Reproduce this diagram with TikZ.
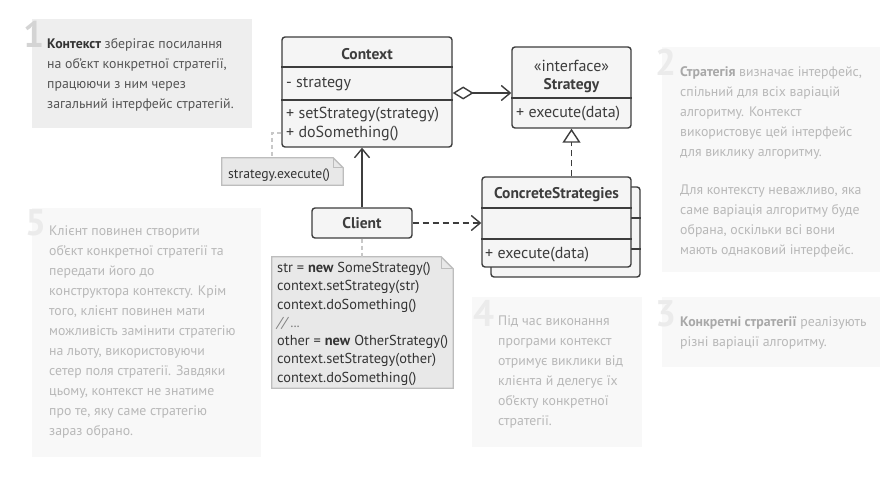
\documentclass[tikz,border=0pt]{standalone}
\usepackage{fontspec}
\setmainfont{PT Sans}
\usetikzlibrary{arrows.meta,calc}

\definecolor{umlline}{HTML}{3D3D3D}
\definecolor{umlfill}{HTML}{F5F5F5}
\definecolor{notefill}{HTML}{E8E8E8}
\definecolor{noteline}{HTML}{BDBDBD}
\definecolor{hintline}{HTML}{C8C8C8}
\definecolor{tipfill}{HTML}{F8F8F8}
\definecolor{tipfillon}{HTML}{EEEEEE}
\definecolor{tiptext}{HTML}{B8B8B8}
\definecolor{tipbold}{HTML}{A8A8A8}
\definecolor{tiptexton}{HTML}{555555}
\definecolor{tipboldon}{HTML}{333333}
\definecolor{tipnum}{HTML}{EBEBEB}
\definecolor{tipnumon}{HTML}{D4D4D4}

\tikzset{
  umlbox/.style={draw=umlline, fill=umlfill, line width=1.4pt, rounded corners=3pt, inner sep=0pt},
  umlsep/.style={draw=umlline, line width=1.4pt},
  umltext/.style={font=\fontsize{16}{18}\selectfont, text=umlline, inner sep=0pt},
  umlname/.style={font=\fontsize{15.5}{18}\selectfont\bfseries, text=umlline, inner sep=0pt},
  tiptxt/.style={anchor=north west, inner sep=0pt, text=tiptext, align=left, font=\fontsize{13.8}{20}\selectfont},
  tipno/.style={anchor=base west, inner sep=0pt, text=tipnum, font=\fontsize{37}{37}\selectfont\bfseries},
  notebox/.style={draw=noteline, fill=notefill, line width=1.3pt},
  hint/.style={draw=hintline, line width=1.3pt, dash pattern=on 4pt off 3pt},
  barb/.style={-{Straight Barb[length=9pt,width=15pt]}},
}

\begin{document}
\begin{tikzpicture}[x=1pt,y=-1pt]
\useasboundingbox (0,0) rectangle (883,486);

% numbered hints
\fill[tipfillon] (32,19) rectangle (252,128);
\node[tipno, text=tipnumon] (no1) at (23,48) {1};
\node[tiptxt, text=tiptexton] (hint1) at (47,38) {\textcolor{tipboldon}{\bfseries Контекст} зберігає посилання\\на об’єкт конкретної стратегії,\\працюючи з ним через\\загальний інтерфейс стратегій.};

\fill[tipfill] (662,47) rectangle (880,272);
\node[tipno] (no2) at (655,76) {2};
\node[tiptxt] (hint2) at (680,66) {\textcolor{tipbold}{\bfseries Стратегія} визначає інтерфейс,\\спільний для всіх варіацій\\алгоритму. Контекст\\використовує цей інтерфейс\\для виклику алгоритму.\\[18pt]Для контексту неважливо, яка\\саме варіація алгоритму буде\\обрана, оскільки всі вони\\мають однаковий інтерфейс.};

\fill[tipfill] (662,297) rectangle (880,367);
\node[tipno] (no3) at (655,326) {3};
\node[tiptxt] (hint3) at (680,316) {\textcolor{tipbold}{\bfseries Конкретні стратегії} реалізують\\різні варіації алгоритму.};

\fill[tipfill] (472,297) rectangle (642,447);
\node[tipno] (no4) at (473,326) {4};
\node[tiptxt] (hint4) at (498,316) {Під час виконання\\програми контекст\\отримує виклики від\\клієнта й делегує їх\\об’єкту конкретної\\стратегії.};

\fill[tipfill] (32,208) rectangle (261,457);
\node[tipno] (no5) at (25,236) {5};
\node[tiptxt] (hint5) at (49,226) {Клієнт повинен створити\\об’єкт конкретної стратегії та\\передати його до\\конструктора контексту. Крім\\того, клієнт повинен мати\\можливість замінити стратегію\\на льоту, використовуючи\\сетер поля стратегії. Завдяки\\цьому, контекст не знатиме\\про те, яку саме стратегію\\зараз обрано.};

% Context
\node[umlbox, minimum width=170pt, minimum height=110pt] (ctx) at (367,92) {};
\draw[umlsep] (ctx.west |- 0,67) -- (ctx.east |- 0,67);
\draw[umlsep] (ctx.west |- 0,100) -- (ctx.east |- 0,100);
\node[umlname, anchor=base] (ctxname) at (367,60) {Context};
\node[umltext, anchor=base west] (ctxfield) at (286,88) {- strategy};
\node[umltext, anchor=base west] (ctxset) at (286,119) {+ setStrategy(strategy)};
\node[umltext, anchor=base west] (ctxdo) at (286,138) {+ doSomething()};

% Strategy
\node[umlbox, minimum width=119pt, minimum height=81pt] (strat) at (571.5,87.5) {};
\draw[umlsep] (strat.west |- 0,98) -- (strat.east |- 0,98);
\node[umltext, anchor=base] (stratkind) at (571.5,72) {«interface»};
\node[umlname, anchor=base] (stratname) at (571.5,90) {Strategy};
\node[umltext, anchor=base west] (stratexec) at (516,118) {+ execute(data)};

% ConcreteStrategies (stacked)
\node[umlbox, minimum width=149pt, minimum height=90pt] (concback) at (565.5,232) {};
\draw[umlsep] (concback.west |- 0,218) -- (concback.east |- 0,218);
\draw[umlsep] (concback.west |- 0,249) -- (concback.east |- 0,249);
\node[umlbox, minimum width=149pt, minimum height=90pt] (conc) at (556.5,222) {};
\draw[umlsep] (conc.west |- 0,208) -- (conc.east |- 0,208);
\draw[umlsep] (conc.west |- 0,239) -- (conc.east |- 0,239);
\node[umlname, anchor=base] (concname) at (556.5,199) {ConcreteStrategies};
\node[umltext, anchor=base west] (concexec) at (485,259) {+ execute(data)};

% Client
\node[umlbox, umlname, minimum width=100pt, minimum height=30pt] (client) at (362,223) {Client};

% notes
\node[minimum width=121pt, minimum height=27pt, inner sep=0pt] (exec) at (282.5,171.5) {};
\draw[notebox] (exec.south west) -- (exec.north west) -- ($(exec.north east)+(-10,0)$)
  -- ($(exec.north east)+(0,10)$) -- (exec.south east) -- cycle;
\draw[draw=noteline, line width=1.3pt] ($(exec.north east)+(-10,0)$) -- ($(exec.north east)+(-10,10)$) -- ($(exec.north east)+(0,10)$);
\node[umltext, font=\fontsize{13.7}{15}\selectfont, text=black!80, anchor=base west] (exectext) at (228,179) {strategy.execute()};

\node[minimum width=181pt, minimum height=131pt, inner sep=0pt] (code) at (362.5,322.5) {};
\draw[notebox] (code.south west) -- (code.north west) -- ($(code.north east)+(-12,0)$)
  -- ($(code.north east)+(0,12)$) -- (code.south east) -- cycle;
\draw[draw=noteline, line width=1.3pt] ($(code.north east)+(-12,0)$) -- ($(code.north east)+(-12,12)$) -- ($(code.north east)+(0,12)$);
\node[inner sep=0pt, anchor=north west, align=left, text=black!80, font=\fontsize{14.4}{18.3}\selectfont] (codetext) at (277,262)
  {str = \textbf{new} SomeStrategy()\\context.setStrategy(str)\\context.doSomething()\\\textcolor{black!50}{\itshape // ...}\\other = \textbf{new} OtherStrategy()\\context.setStrategy(other)\\context.doSomething()};

% connectors
\draw[umlline, line width=1.4pt, {Diamond[open,length=21pt,width=13pt,fill=white]}-{Straight Barb[length=9pt,width=15pt]}]
  (ctx.east |- 0,93) -- (strat.west |- 0,93);
\draw[umlline, line width=1.4pt, dash pattern=on 6pt off 4pt, -{Triangle[open,length=14pt,width=18pt,fill=white]}]
  (strat.south |- conc.north) -- (strat.south);
\draw[umlline, line width=1.4pt, barb] (client.north) -- (client.north |- ctx.south);
\draw[umlline, line width=1.4pt, dash pattern=on 6pt off 4pt, barb] (client.east) -- (client.east -| conc.west);

\coordinate (bend) at (272,133);
\draw[hint] (ctx.west |- bend) -- (bend) -- (bend |- exec.north);
\draw[hint] (client.south) -- (client.south |- code.north);
\end{tikzpicture}
\end{document}
